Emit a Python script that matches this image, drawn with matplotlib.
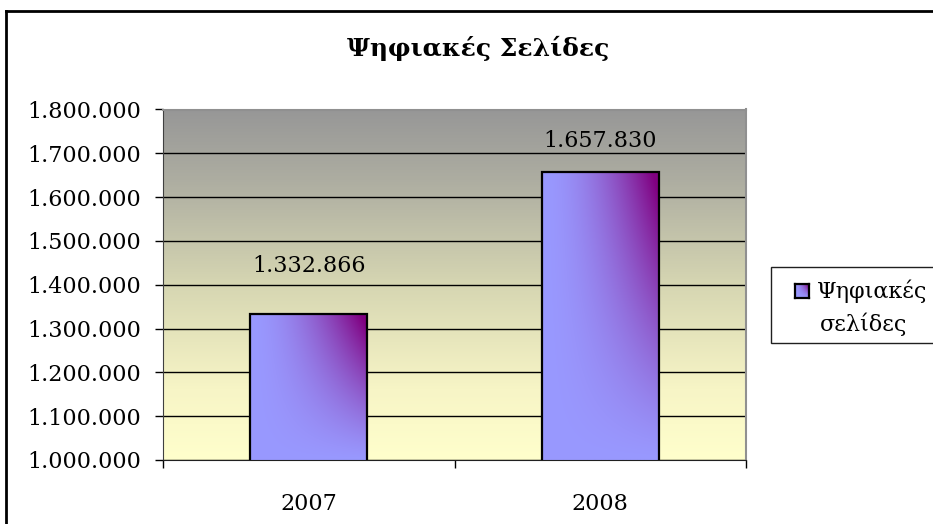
import matplotlib
matplotlib.use('Agg')
import matplotlib.pyplot as plt
import numpy as np
from matplotlib.colors import LinearSegmentedColormap, to_rgb
from matplotlib.patches import Rectangle
from matplotlib.lines import Line2D
from matplotlib.ticker import FuncFormatter

# ---- data ----
categories = ['2007', '2008']
values = [1332866, 1657830]
series_lines = ['Ψηφιακές', 'σελίδες']
title = 'Ψηφιακές Σελίδες'
y_min, y_max, y_step = 1_000_000, 1_800_000, 100_000
label_offsets_pt = [34.5, 22.3]  # vertical offset of data labels above bar tops

FONT = 'DejaVu Serif'
FS = 16

def fmt(v, pos=None):
    return f"{int(round(v)):,}".replace(',', '.')

fig = plt.figure(figsize=(9.33, 5.24), dpi=100)
W, H = 933, 524
ax = fig.add_axes([163 / W, 1 - 460 / H, (746 - 163) / W, (460 - 109.5) / H])

x = np.arange(len(categories))

# background gradient
bg = LinearSegmentedColormap.from_list('bg', [(0, '#FFFFCC'), (0.2, '#F7F5C6'),
                                             (0.5, '#D6D6B2'), (0.8, '#ADADA1'),
                                             (1, '#979797')])
grad = np.linspace(0, 1, 256).reshape(-1, 1)
ax.imshow(grad, cmap=bg, origin='lower', extent=[0, 1, 0, 1],
          transform=ax.transAxes, aspect='auto', zorder=-2)

# gridlines
ax.yaxis.grid(True, color='black', lw=1)
ax.set_axisbelow(True)

# bars
bars = ax.bar(x, values, width=0.4, facecolor='none', edgecolor='black',
              lw=1.6, zorder=3)
light = np.array(to_rgb('#9999FF'))
dark = np.array(to_rgb('#800080'))


def bar_gradient(n):
    g = np.linspace(0, 1, n)
    GX, GY = np.meshgrid(g, g)
    tt = np.clip((GX ** 1.8) * (GY ** 1.2) * 1.1, 0, 1)
    return light[None, None, :] * (1 - tt[..., None]) + dark[None, None, :] * tt[..., None]


rgb = bar_gradient(200)
for b in bars:
    x0, w = b.get_x(), b.get_width()
    y_lo = max(b.get_y(), y_min)
    y_hi = b.get_y() + b.get_height()
    im = ax.imshow(rgb, extent=[x0, x0 + w, y_lo, y_hi], origin='lower',
                   aspect='auto', zorder=2, interpolation='bilinear')
    im.set_clip_path(b)

ax.set_xlim(-0.5, len(categories) - 0.5)
ax.set_ylim(y_min, y_max)

# data labels
for xi, v, off in zip(x, values, label_offsets_pt):
    ax.annotate(fmt(v), xy=(xi, v), xytext=(0, off), textcoords='offset points',
                ha='center', va='center', fontsize=FS, family=FONT, color='black')

# ticks
ax.set_yticks(np.arange(y_min, y_max + 1, y_step))
ax.yaxis.set_major_formatter(FuncFormatter(fmt))
ax.tick_params(axis='y', direction='out', length=6, width=1, pad=10,
               labelsize=FS, colors='black')
ax.set_xticks(np.arange(-0.5, len(categories), 1.0))
ax.set_xticklabels([])
ax.set_xticks(x, minor=True)
ax.set_xticklabels(categories, minor=True)
ax.tick_params(axis='x', which='major', direction='out', length=6, width=1)
ax.tick_params(axis='x', which='minor', length=0, pad=24, labelsize=FS)
for lab in ax.get_yticklabels() + ax.get_xticklabels(minor=True):
    lab.set_family(FONT)

for s in ['top', 'right']:
    ax.spines[s].set_color('#909090')
    ax.spines[s].set_linewidth(1.5)
ax.spines['left'].set_color('#404040')
ax.spines['bottom'].set_color('#202020')

# title
fig.text(478 / W, 1 - 48 / H, title, ha='center', va='center', fontsize=18,
         fontweight='bold', family=FONT)

# legend (drawn manually so the key sits beside the first line)
fig.add_artist(Rectangle((771 / W, 1 - 343 / H), 170 / W, 76 / H,
                         transform=fig.transFigure, facecolor='white',
                         edgecolor='#202020', lw=1, zorder=0.5))
kax = fig.add_axes([795 / W, 1 - 298 / H, 14 / W, 14 / H])
kax.set_zorder(5)
kax.imshow(bar_gradient(50), origin='lower', aspect='auto', extent=[0, 1, 0, 1])
kax.set_xticks([]); kax.set_yticks([])
for s in kax.spines.values():
    s.set_linewidth(1.6); s.set_color('black')
fig.text(817 / W, 1 - 291 / H, series_lines[0], ha='left', va='center',
         fontsize=FS, family=FONT, zorder=6)
fig.text(820 / W, 1 - 324 / H, series_lines[1], ha='left', va='center',
         fontsize=FS, family=FONT, zorder=6)

# outer chart frame
fig.add_artist(Line2D([6 / W, 6 / W], [0, 1 - 11 / H], transform=fig.transFigure,
                      color='black', lw=2))
fig.add_artist(Line2D([6 / W, 1], [1 - 11 / H, 1 - 11 / H], transform=fig.transFigure,
                      color='black', lw=2))

fig.savefig('out.png', dpi=100)
